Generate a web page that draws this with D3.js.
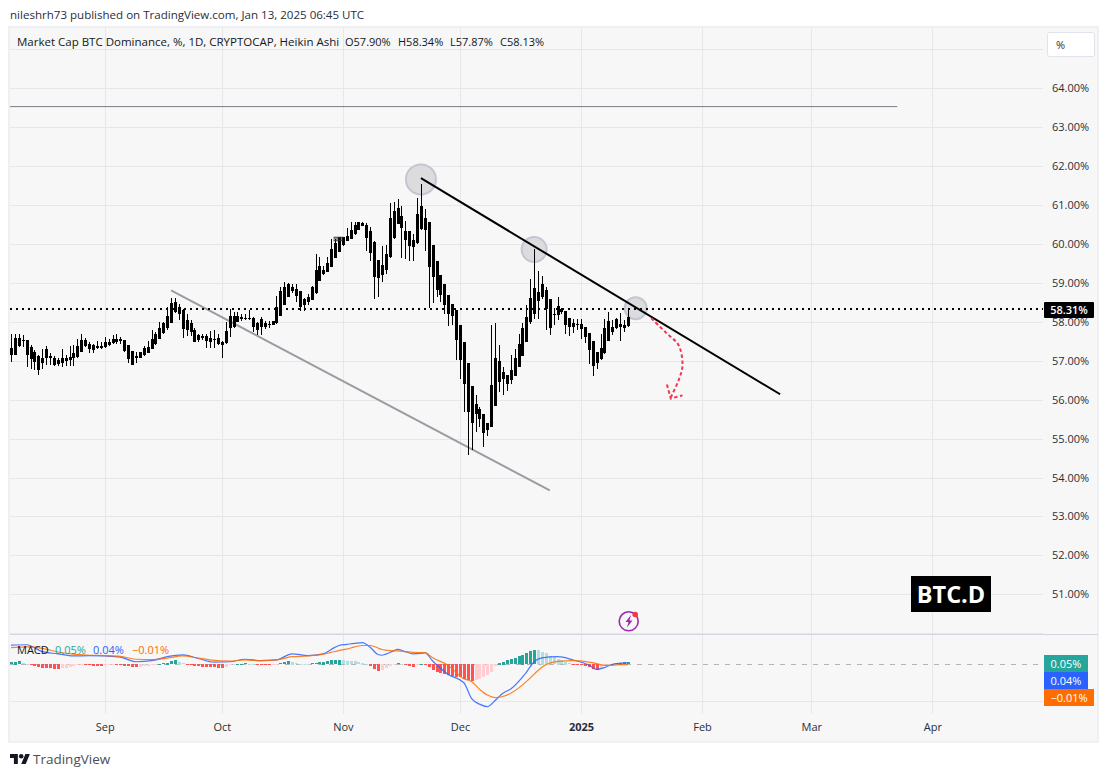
<!DOCTYPE html>
<html><head><meta charset="utf-8">
<script src="https://cdn.jsdelivr.net/npm/d3@7/dist/d3.min.js"></script>
<style>html,body{margin:0;padding:0;background:#fff}svg{display:block}text{font-family:"Open Sans","Noto Sans",sans-serif}</style>
</head><body><svg id="c" width="1109" height="777"></svg>
<script>
const firstDay = "2024-08-08";
const bodyTop = [57.34,57.59,57.59,57.54,57.54,57.36,57.23,57.12,57.06,57.30,57.13,57.08,57.01,57.06,57.07,57.09,57.19,57.37,57.54,57.53,57.42,57.40,57.37,57.37,57.48,57.49,57.55,57.57,57.55,57.53,57.40,57.24,57.12,57.23,57.33,57.36,57.57,57.70,57.85,57.96,58.14,58.49,58.51,58.37,58.30,58.06,57.96,57.80,57.67,57.63,57.63,57.58,57.57,57.58,57.49,57.76,58.14,58.14,58.14,58.13,58.11,58.11,58.11,57.98,
58.08,57.97,57.95,58.01,58.39,58.78,58.89,58.97,58.89,58.85,58.78,58.59,58.65,58.89,59.33,59.44,59.33,59.51,59.87,60.02,60.17,60.17,60.21,60.36,60.50,60.56,60.54,60.49,60.34,60.06,59.59,59.47,59.74,60.67,60.85,60.92,60.73,60.34,60.34,60.11,60.77,60.98,60.68,60.56,59.98,59.57,59.21,58.96,58.70,58.46,
58.30,57.93,57.47,56.95,56.35,55.88,55.77,55.64,55.41,56.37,57.06,56.99,56.71,56.63,56.76,57.08,57.44,57.85,58.13,58.60,58.88,58.76,58.96,58.81,58.58,58.21,58.40,58.33,58.27,58.10,57.98,57.95,57.95,57.88,57.71,57.52,57.22,57.33,57.85,58.02,57.87,58.08,57.95,57.93,58.13];
const bodyBottom = [57.14,57.14,57.37,57.51,57.16,57.04,56.97,56.76,56.93,57.06,57.07,56.90,56.91,56.95,56.99,57.01,57.06,57.10,57.23,57.37,57.31,57.27,57.33,57.34,57.36,57.41,57.45,57.48,57.50,57.24,57.04,56.89,57.07,57.07,57.14,57.21,57.31,57.42,57.57,57.71,57.83,57.97,58.24,58.21,57.81,57.80,57.74,57.49,57.53,57.59,57.51,57.49,57.53,57.42,57.40,57.46,57.85,57.87,57.99,58.07,58.09,58.07,57.87,57.78,
57.86,57.86,57.91,57.91,57.97,58.16,58.44,58.65,58.80,58.67,58.39,58.42,58.50,58.55,58.74,59.04,59.23,59.27,59.40,59.63,59.80,59.97,60.07,60.14,60.25,60.37,60.46,60.15,59.76,59.15,59.13,59.21,59.32,59.66,60.15,60.51,60.40,60.11,59.96,59.93,60.02,60.38,60.36,59.40,59.16,58.82,58.70,58.42,58.19,58.14,
57.53,57.02,56.40,55.69,55.41,55.64,55.50,55.15,55.22,55.30,55.84,56.46,56.53,56.40,56.50,56.60,56.84,57.12,57.48,57.99,58.21,58.53,58.64,58.32,57.85,58.17,58.17,58.25,57.93,57.87,57.88,57.93,57.81,57.61,57.27,56.86,56.94,57.05,57.21,57.50,57.74,57.84,57.88,57.83,57.90];
const highs = [57.68,57.70,57.70,57.66,57.54,57.40,57.27,57.14,57.31,57.37,57.19,57.12,57.08,57.29,57.14,57.37,57.40,57.57,57.70,57.59,57.48,57.44,57.50,57.48,57.61,57.57,57.66,57.70,57.61,57.54,57.40,57.24,57.23,57.23,57.37,57.51,57.80,57.74,57.99,57.99,58.38,58.60,58.60,58.47,58.34,58.21,58.04,57.83,57.70,57.68,57.70,57.76,57.80,57.70,57.51,57.99,58.34,58.26,58.26,58.21,58.20,58.30,58.13,57.99,
58.12,58.03,58.02,58.02,58.67,58.89,59.02,59.00,58.97,58.97,58.79,58.61,58.72,58.91,59.74,59.66,59.44,59.67,60.13,60.13,60.19,60.19,60.41,60.56,60.57,60.57,60.57,60.53,60.43,60.07,59.59,59.96,59.98,61.05,61.07,61.15,60.98,60.60,60.34,60.26,61.18,61.54,60.90,60.56,59.98,59.57,59.21,58.96,58.70,58.46,
58.30,57.93,57.47,56.95,56.35,56.12,55.82,55.64,55.41,57.91,57.96,57.40,56.83,56.63,57.14,57.31,57.70,57.96,58.43,59.11,59.88,59.30,59.19,58.89,58.58,58.36,58.64,58.36,58.27,58.10,58.08,58.08,58.08,57.88,57.71,57.52,57.22,57.68,58.08,58.25,58.06,58.11,58.22,58.04,58.34];
const lows = [56.97,57.14,57.36,57.36,56.84,56.80,56.77,56.63,56.80,56.89,56.89,56.86,56.86,56.84,56.86,56.87,56.86,57.08,57.23,57.36,57.19,57.19,57.30,57.31,57.34,57.37,57.42,57.44,57.42,57.23,56.93,56.89,56.93,57.06,57.12,57.19,57.29,57.40,57.57,57.70,57.80,57.97,58.23,58.04,57.59,57.63,57.63,57.48,57.48,57.54,57.33,57.34,57.34,57.40,57.07,57.44,57.61,57.85,57.99,58.02,58.04,58.04,57.74,57.66,
57.67,57.82,57.84,57.91,57.95,58.16,58.44,58.65,58.74,58.50,58.29,58.27,58.42,58.56,58.72,59.04,59.21,59.27,59.40,59.63,59.80,59.96,60.07,60.13,60.24,60.37,60.45,59.81,59.57,58.59,58.63,59.02,59.23,59.64,60.14,60.51,59.64,59.62,59.57,59.56,60.00,60.36,59.81,58.35,58.48,58.63,58.50,58.19,57.90,57.93,
57.02,56.54,55.69,54.57,54.70,55.17,55.30,54.79,55.07,55.30,55.84,56.20,56.13,56.23,56.40,56.60,56.84,57.12,57.48,57.95,58.08,58.08,58.59,57.80,57.65,57.91,58.04,58.21,57.69,57.63,57.71,57.78,57.57,57.45,56.92,56.62,56.78,57.03,57.18,57.50,57.65,57.82,57.51,57.74,57.87];
const histogram = [0.064,0.074,0.083,0.028,0.009,-0.018,-0.055,-0.083,-0.101,-0.110,-0.120,-0.129,-0.138,-0.120,-0.101,-0.083,-0.055,-0.037,-0.018,-0.028,-0.037,-0.046,-0.051,-0.055,-0.037,-0.028,-0.018,-0.028,-0.037,-0.046,-0.064,-0.074,-0.083,-0.074,-0.055,-0.046,-0.028,-0.018,0.018,0.028,0.046,0.083,0.110,0.074,0.028,-0.009,-0.018,-0.055,-0.064,-0.074,-0.083,-0.087,-0.092,-0.101,-0.110,-0.074,-0.037,-0.009,0.009,0.018,0.028,0.018,0.009,-0.009,-0.018,-0.028,-0.037,-0.028,-0.009,0.028,0.055,0.083,0.074,0.037,0.018,0.009,0.005,0.028,0.037,0.064,0.074,0.083,
0.110,0.120,0.129,0.110,0.101,0.092,0.083,0.064,0.046,0.009,-0.046,-0.138,-0.202,-0.166,-0.120,-0.064,-0.028,0.037,0.009,-0.028,-0.055,-0.083,-0.028,0.009,-0.037,-0.083,-0.166,-0.221,-0.248,-0.276,-0.294,-0.322,-0.350,-0.368,-0.405,-0.442,-0.460,-0.432,-0.405,-0.368,-0.304,-0.221,-0.064,0.046,0.074,0.110,0.138,0.175,0.221,0.267,0.313,0.359,0.396,0.386,0.350,0.304,0.230,0.202,0.156,0.120,0.074,0.028,-0.009,-0.014,-0.018,-0.046,-0.083,-0.138,-0.156,-0.110,-0.055,-0.018,0.018,0.037,0.046,0.051,0.055];
const macdDays = [0,4,8,12,16,20,24,28,32,36,40,44,48,52,56,60,64,68,72,76,80,82,84,86,88,90,92,94,95,96,98,99,101,103,105,106,108,112,116,118,120,122,124,126,128,132,134,136,140,144,148,150,152,154,156,158];
const macdLine = [.53,.54,.35,.29,.23,.24,.23,.20,.07,.10,.21,.26,.16,.06,.07,.14,.10,.12,.29,.24,.29,.41,.52,.55,.58,.60,.47,.27,.25,.28,.37,.41,.35,.29,.30,.32,.09,-.28,-.51,-.95,-1.10,-1.17,-1.00,-.80,-.68,-.22,.07,.18,.21,.12,-.02,-.14,-.09,0,.03,.04];
const signalLine = [.46,.48,.44,.34,.28,.25,.24,.22,.14,.13,.17,.23,.17,.11,.09,.12,.10,.12,.21,.23,.28,.33,.38,.42,.48,.52,.52,.45,.41,.39,.37,.37,.35,.33,.32,.32,.18,-.03,-.40,-.48,-.69,-.85,-.92,-.89,-.80,-.48,-.27,-.08,.08,.10,.06,.02,-.03,-.03,-.01,-.01];
const priceTicks = [51,52,53,54,55,56,57,58,59,60,61,62,63,64];
const priceGrid = [50,51,52,53,54,55,56,57,58,59,60,61,62,63,64,65];
const monthTicks = ["2024-09-01","2024-10-01","2024-11-01","2024-12-01","2025-01-01","2025-02-01","2025-03-01","2025-04-01"];
const monthLabels = ["Sep","Oct","Nov","Dec","2025","Feb","Mar","Apr"];
const lastPrice = 58.31;
const resistanceRef = 63.53, resistanceEnd = "2025-03-23";
const blackTrend = [["2024-11-21",61.69],["2025-02-21",56.14]];
const grayTrend = [["2024-09-18",58.81],["2024-12-24",53.67]];
const touchCircles = [["2024-11-21",61.66,15],["2024-12-20",59.86,12.5],["2025-01-15",58.35,11]];
const redArrow = [["2025-01-19",58.09],["2025-01-23",57.70],["2025-01-26",57.40],["2025-01-27",56.88],["2025-01-26",56.50],["2025-01-24",56.06]];
const redHead = [["2025-01-23",56.39],["2025-01-24",56.03],["2025-01-27",56.11]];
const macdLegend = [["0.05%","#26a69a",55,1044,44],["0.04%","#2962ff",93,1044,44],["\u22120.01%","#ff6d00",132,1044,50]];

const d = s => new Date(s + "T00:00:00Z");
const candleDate = i => d3.utcDay.offset(d(firstDay), i);
const svg = d3.select("#c");
const x = d3.scaleUtc().domain([d(firstDay), d("2025-01-01")]).range([11, 581]);
const y = d3.scaleLinear().domain([51, 64]).range([594.3, 88.3]);
const ym = d3.scaleLinear().domain([0, -1]).range([664.3, 700.5]);
const L = 10, R = 1043, T = 28, B = 741;

svg.append("rect").attr("x",L-1).attr("y",T-1).attr("width",1098-L+1).attr("height",B-T+2).attr("fill","#f7f7f7").attr("stroke","#eff0f4").attr("stroke-width",2);

const g = svg.append("g").attr("shape-rendering","crispEdges");
g.selectAll(".v").data(monthTicks).join("line").attr("x1",m=>Math.round(x(d(m)))+.5).attr("x2",m=>Math.round(x(d(m)))+.5).attr("y1",T).attr("y2",714).attr("stroke","#e7e7ea");
g.selectAll(".h").data(priceGrid).join("line").attr("x1",L).attr("x2",R).attr("y1",v=>Math.round(y(v))+.5).attr("y2",v=>Math.round(y(v))+.5).attr("stroke","#e7e7ea");
g.append("line").attr("x1",L).attr("x2",R).attr("y1",Math.round(ym(-1))+.5).attr("y2",Math.round(ym(-1))+.5).attr("stroke","#e7e7ea");
g.append("line").attr("x1",L).attr("x2",1098).attr("y1",634.5).attr("y2",634.5).attr("stroke","#d3d6e0");
g.append("line").attr("x1",L).attr("x2",R).attr("y1",Math.round(ym(0))+.5).attr("y2",Math.round(ym(0))+.5).attr("stroke","#b2b5be").attr("stroke-dasharray","5 6");

// axes
const yAxis = d3.axisRight(y).tickValues(priceTicks).tickFormat(v=>v.toFixed(2)+"%").tickSize(0).tickPadding(9);
const ya = svg.append("g").attr("transform",`translate(${R},0)`).call(yAxis);
ya.select(".domain").remove();
ya.selectAll("text").attr("font-size",11).attr("fill","#2a2e39").style("font-family",'"Open Sans"');
const xAxis = d3.axisBottom(x).tickValues(monthTicks.map(d)).tickFormat((t,i)=>monthLabels[i]).tickSize(0).tickPadding(8);
const xa = svg.append("g").attr("transform","translate(0,715)").call(xAxis);
xa.select(".domain").remove();
xa.selectAll("text").attr("font-size",11).attr("fill","#2a2e39").attr("font-weight",(t,i)=>monthLabels[i]==="2025"?700:400);

// resistance
svg.append("line").attr("x1",L).attr("x2",x(d(resistanceEnd))).attr("y1",y(resistanceRef)).attr("y2",y(resistanceRef)).attr("stroke","#7b7b85").attr("stroke-width",1);

// circles behind candles
const lineFn = d3.line().x(p=>x(d(p[0]))).y(p=>y(p[1]));
svg.selectAll(".touch").data(touchCircles).join("circle").attr("cx",c=>x(d(c[0]))).attr("cy",c=>y(c[1])).attr("r",c=>c[2]).attr("fill","#dcdcdf").attr("stroke","#c4c6d2").attr("stroke-width",2);

// small box over candle cluster
svg.append("rect").attr("x",x(candleDate(83))-1.5).attr("width",9.5).attr("y",y(60.2)).attr("height",y(60.07)-y(60.2)+.5).attr("fill","#b9b9bb");

// gray trend
svg.append("path").attr("d",lineFn(grayTrend)).attr("stroke","#9b9ba3").attr("stroke-width",2).attr("fill","none");

// candles
const cg = svg.append("g").attr("shape-rendering","crispEdges").attr("fill","#000");
highs.forEach((h,i)=>{
  const cx = Math.round(x(candleDate(i)));
  cg.append("rect").attr("x",cx).attr("width",1).attr("y",Math.round(y(h))).attr("height",Math.max(1,Math.round(y(lows[i]))-Math.round(y(h))));
  const t=Math.round(y(bodyTop[i])), b=Math.round(y(bodyBottom[i]));
  cg.append("rect").attr("x",cx-1).attr("width",3).attr("y",t).attr("height",Math.max(1,b-t));
});
svg.append("rect").attr("x",x(candleDate(83))-1.5).attr("width",9.5).attr("y",y(60.17)).attr("height",1).attr("fill","#333");
svg.append("rect").attr("x",x(candleDate(83))-1.5).attr("width",9.5).attr("y",y(60.11)).attr("height",1).attr("fill","#333");

// dotted price line
const lastY = Math.floor(y(lastPrice));
svg.append("line").attr("x1",L).attr("x2",R).attr("y1",lastY).attr("y2",lastY).attr("stroke","#000").attr("stroke-width",2).attr("stroke-dasharray","2 4");

// black trend
svg.append("path").attr("d",lineFn(blackTrend)).attr("stroke","#000").attr("stroke-width",2).attr("fill","none");

// red arrow
svg.append("path").attr("d",d3.line().curve(d3.curveCatmullRom.alpha(.5)).x(p=>x(d(p[0]))).y(p=>y(p[1]))(redArrow)).attr("stroke","#f2364f").attr("stroke-width",2).attr("stroke-dasharray","3.5 2.5").attr("fill","none");
svg.append("path").attr("d",lineFn(redHead)).attr("stroke","#f2364f").attr("stroke-width",2).attr("stroke-dasharray","3.5 2.5").attr("fill","none");

// MACD
const histColor = (v,i)=>{const p=i?histogram[i-1]:v; return v>=0?(v>=p?"#26a69a":"#b2dfdb"):(v<p?"#ff5252":"#ffcdd2");};
const hg = svg.append("g").attr("shape-rendering","crispEdges");
hg.selectAll("rect").data(histogram).join("rect").attr("x",(v,i)=>Math.round(x(candleDate(i)))-1).attr("width",3)
  .attr("y",v=>Math.round(Math.min(ym(v),ym(0)))).attr("height",v=>Math.max(1,Math.round(Math.abs(ym(v)-ym(0))))).attr("fill",histColor);
const mline = arr => d3.line().curve(d3.curveMonotoneX).x((k,i)=>x(candleDate(k))).y((k,i)=>ym(arr[i]))(macdDays);
svg.append("path").attr("d",mline(macdLine)).attr("stroke","#2962ff").attr("stroke-width",1.2).attr("fill","none").attr("opacity",.85);
svg.append("path").attr("d",mline(signalLine)).attr("stroke","#ff6d00").attr("stroke-width",1.2).attr("fill","none").attr("opacity",.85);

// texts
const txt=(s,xx,yy,size,fill,extra={})=>{const t=svg.append("text").attr("x",xx).attr("y",yy).attr("font-size",size).attr("fill",fill).text(s);Object.entries(extra).forEach(([k,v])=>t.attr(k,v));return t;};
txt("nileshrh73 published on TradingView.com, Jan 13, 2025 06:45 UTC",10,19,11.55,"#2a2e39");
txt("Market Cap BTC Dominance, %, 1D, CRYPTOCAP, Heikin Ashi",17,46,11.5,"#131722");
txt("O57.90%",345,46,11,"#131722");
txt("H58.34%",398,46,11,"#131722");
txt("L57.87%",450,46,11,"#131722");
txt("C58.13%",500,46,11,"#131722");

svg.append("rect").attr("x",1047.5).attr("y",32.5).attr("width",47).attr("height",24).attr("rx",2).attr("fill","#fff").attr("stroke","#e0e3eb");
txt("%",1056,49,11,"#2a2e39");

// price label
svg.append("rect").attr("x",1044).attr("y",lastY-7).attr("width",50).attr("height",16).attr("rx",1).attr("fill","#000");
txt("58.31%",1069,lastY+5,11,"#fff",{"text-anchor":"middle","font-weight":600});

// MACD legend + labels
txt("MACD",17,654,11,"#131722");
macdLegend.forEach((m,i)=>{
  txt(m[0],m[2],654,11,m[1]);
  const top=[655,672,689][i];
  svg.append("rect").attr("x",m[3]).attr("y",top).attr("width",m[4]).attr("height",17).attr("fill",m[1]);
  txt(m[0],m[3]+m[4]/2,top+12.5,11,"#fff",{"text-anchor":"middle"});
});

// BTC.D badge
svg.append("rect").attr("x",911).attr("y",576).attr("width",80).attr("height",36).attr("fill","#000");
txt("BTC.D",951,603,23.5,"#fff",{"text-anchor":"middle","font-weight":700});

// flash icon
svg.append("circle").attr("cx",628.7).attr("cy",621.3).attr("r",9.5).attr("fill","none").attr("stroke","#9c27b0").attr("stroke-width",1.6);
svg.append("path").attr("d","M631 615l-5.5 7h3l-1.5 5.5 5.5-7h-3z").attr("fill","#9c27b0");
svg.append("circle").attr("cx",635.2).attr("cy",614.5).attr("r",2.8).attr("fill","#f23645");

// logo
svg.append("path").attr("transform","translate(10,751.8) scale(.56)").attr("d","M14 22H7V11H0V4h14v18zM28 22h-8l7.5-18h8L28 22z").attr("fill","#131722");
svg.append("circle").attr("cx",10+20*.56).attr("cy",751.8+8*.56).attr("r",4*.56).attr("fill","#131722");
txt("TradingView",33,764,13.5,"#4a4e59");
</script></body></html>
